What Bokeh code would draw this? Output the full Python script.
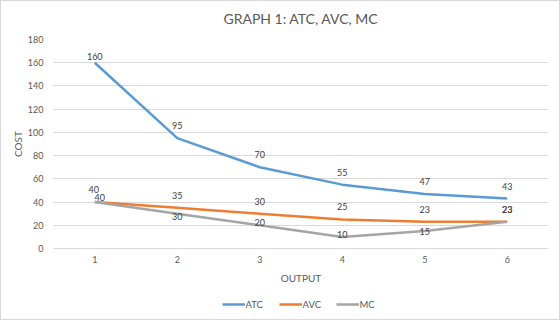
from bokeh.plotting import figure
from bokeh.layouts import column
from bokeh.models import ColumnDataSource, FixedTicker, Legend, LegendItem, Range1d
from bokeh.core.properties import value
from bokeh.embed import file_html
from bokeh.resources import INLINE

output = [1, 2, 3, 4, 5, 6]
atc = [160, 95, 70, 55, 47, 43]
avc = [40, 35, 30, 25, 23, 23]
mc = [40, 30, 20, 10, 15, 23]
y_ticks = [0, 20, 40, 60, 80, 100, 120, 140, 160, 180]
title_text = "GRAPH 1: ATC, AVC, MC"

# label offsets (styling, in screen pixels)
atc_dx = [0, 0, 0, 0, 0, 0]
atc_dy = [-6.5, -12.5, -12.5, -12.5, -12.5, -12.5]
avc_dx = [-1, 0, 0, 0, 0, 0]
avc_dy = [-12.5, -12.5, -12.5, -12.5, -12, -12]
mc_dx = [5, 0, 0, 0, 0, 0]
mc_dy = [-5, 2.5, -3, -2.5, 0, -12]

FONT = "Lato"
W = 558
H_TITLE, H_MAIN, H_LEG = 28, 260, 30


def strip(h):
    f = figure(width=W, height=h, output_backend="svg", toolbar_location=None,
               x_range=Range1d(0, W), y_range=Range1d(0, h),
               min_border_left=0, min_border_right=0, min_border_top=0, min_border_bottom=0)
    f.axis.visible = False
    f.grid.visible = False
    f.outline_line_color = None
    f.border_fill_color = "white"
    f.background_fill_color = "white"
    return f


# title strip
tt = strip(H_TITLE)
tt.text(x=[W / 2], y=[H_TITLE - 17], text=[title_text], text_font=value(FONT),
        text_font_size="14px", text_color="#595959", text_align="center", text_baseline="middle")

p = figure(width=W, height=H_MAIN, output_backend="svg", toolbar_location=None,
           x_range=Range1d(0.5, 6.5), y_range=Range1d(0, 180),
           min_border_left=52, min_border_right=11, min_border_top=10,
           min_border_bottom=H_MAIN - 10 - 209)

p.outline_line_color = None
p.background_fill_color = "white"
p.border_fill_color = "white"

p.xgrid.grid_line_color = None
p.ygrid.grid_line_color = "#d9d9d9"
p.ygrid.grid_line_width = 1
p.ygrid.ticker = FixedTicker(ticks=y_ticks)

p.xaxis.ticker = FixedTicker(ticks=output)
p.yaxis.ticker = FixedTicker(ticks=y_ticks)
for ax in (p.xaxis, p.yaxis):
    ax.major_tick_line_color = None
    ax.minor_tick_line_color = None
    ax.major_tick_out = 0
    ax.major_tick_in = 0
    ax.minor_tick_out = 0
    ax.minor_tick_in = 0
    ax.major_label_text_font = FONT
    ax.major_label_text_font_size = "9px"
    ax.major_label_text_color = "#595959"
    ax.axis_label_text_font = FONT
    ax.axis_label_text_font_size = "10px"
    ax.axis_label_text_font_style = "normal"
    ax.axis_label_text_color = "#595959"
p.yaxis.axis_line_color = None
p.xaxis.axis_line_color = "#d9d9d9"
p.xaxis.axis_label = "OUTPUT"
p.yaxis.axis_label = "COST"
p.xaxis.major_label_standoff = 7
p.xaxis.axis_label_standoff = 6
p.yaxis.major_label_standoff = 10
p.yaxis.axis_label_standoff = 1

series = [("ATC", atc, "#5B9BD5", atc_dx, atc_dy),
          ("AVC", avc, "#ED7D31", avc_dx, avc_dy),
          ("MC", mc, "#A5A5A5", mc_dx, mc_dy)]
sources = []
for name, vals, color, dx, dy in series:
    src = ColumnDataSource(dict(x=output, y=vals, t=[str(v) for v in vals], dx=dx, dy=dy))
    p.line("x", "y", source=src, line_color=color, line_width=2.5)
    sources.append(src)
for src in sources:
    p.text("x", "y", text="t", source=src, x_offset="dx", y_offset="dy",
           text_font=value(FONT), text_font_size="9px", text_color="#404040",
           text_align="center", text_baseline="middle")

# legend strip below the chart (its lines lie outside the strip's visible range)
lg = strip(H_LEG)
items = []
for name, vals, color, dx, dy in series:
    r = lg.line(x=[-20, -10], y=[-20, -10], line_color=color, line_width=2.5)
    items.append(LegendItem(label=name, renderers=[r]))
legend = Legend(items=items, orientation="horizontal", location="center",
                glyph_width=23, glyph_height=10, label_standoff=1, spacing=13,
                padding=0, margin=0, border_line_color=None, background_fill_alpha=0,
                label_height=12,
                label_text_font=FONT, label_text_font_size="9.5px", label_text_color="#595959")
lg.add_layout(legend)

layout = column(tt, p, lg, spacing=0)
layout.styles = {"border": "1px solid #d9d9d9", "background-color": "white"}

open("out.html", "w").write(file_html(layout, INLINE))
